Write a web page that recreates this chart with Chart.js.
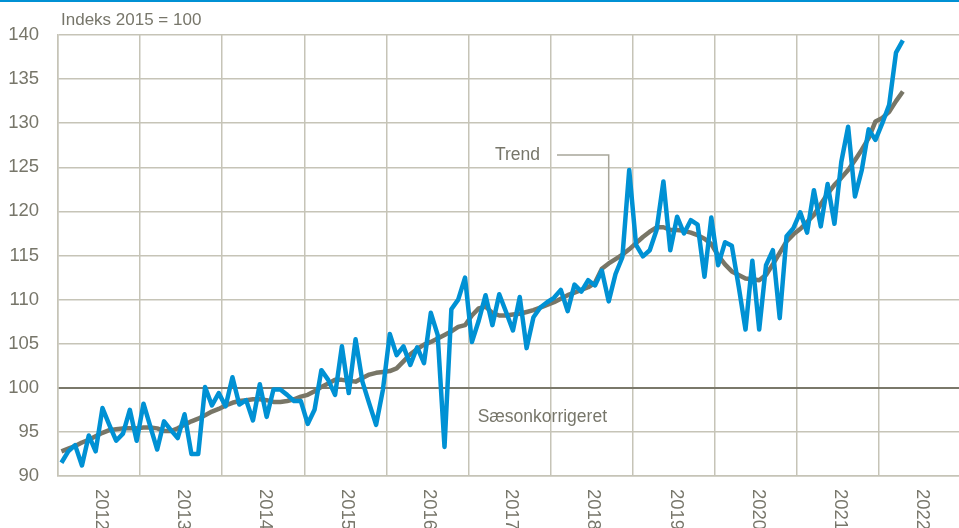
<!DOCTYPE html>
<html>
<head>
<meta charset="utf-8">
<script src="https://cdn.jsdelivr.net/npm/chart.js@4"></script>
<style>
  html, body { margin: 0; padding: 0; background: #fff; overflow: hidden; }
  #wrap { width: 959px; height: 528px; overflow: hidden; }
</style>
</head>
<body>
<div id="wrap"><canvas id="chart" width="962" height="528"></canvas></div>
<script>
// Monthly index, Jan 2012 - Apr 2022 (2015 = 100)
const years = ['2012', '2013', '2014', '2015', '2016', '2017', '2018', '2019', '2020', '2021', '2022'];

const seasonAdjusted = [
  91.5, 92.8, 93.5, 91.2, 94.6, 92.8, 97.7, 95.8, 94.0, 94.8, 97.5, 94.0,
  98.2, 95.6, 93.0, 96.2, 95.2, 94.3, 97.0, 92.5, 92.5, 100.1, 98.0, 99.4,
  97.9, 101.2, 98.1, 98.6, 96.3, 100.4, 96.7, 99.8, 99.8, 99.2, 98.5, 98.5,
  95.9, 97.5, 102.0, 100.9, 99.2, 104.7, 99.4, 105.5, 100.7, 98.2, 95.8, 99.8,
  106.1, 103.7, 104.7, 102.6, 104.6, 102.8, 108.5, 106.0, 93.3, 108.9, 110.0, 112.5,
  105.2, 107.6, 110.5, 107.1, 110.6, 108.6, 106.5, 110.3, 104.5, 108.0, 109.1, 109.7,
  110.2, 111.1, 108.7, 111.7, 110.9, 112.2, 111.6, 113.3, 109.8, 112.9, 114.8, 124.7,
  116.2, 114.9, 115.6, 117.9, 123.4, 115.6, 119.4, 117.5, 119.0, 118.5, 112.6, 119.3,
  113.9, 116.5, 116.1, 111.5, 106.6, 114.4, 106.6, 113.9, 115.6, 107.9, 117.2, 118.1,
  119.9, 117.6, 122.4, 118.3, 123.1, 118.6, 125.6, 129.6, 121.7, 124.7, 129.3, 128.1,
  130.0, 132.1, 138.0, 139.4
];

const trend = [
  92.8, 93.1, 93.4, 93.8, 94.1, 94.5, 94.9, 95.2, 95.3, 95.4, 95.4, 95.4,
  95.5, 95.5, 95.4, 95.1, 95.1, 95.4, 95.8, 96.2, 96.5, 96.9, 97.3, 97.6,
  98.0, 98.3, 98.5, 98.6, 98.7, 98.7, 98.6, 98.4, 98.4, 98.5, 98.7, 99.0,
  99.2, 99.6, 100.1, 100.5, 100.9, 100.9, 100.8, 100.7, 101.1, 101.5, 101.7, 101.8,
  101.9, 102.2, 103.0, 103.8, 104.4, 104.9, 105.2, 105.6, 106.0, 106.4, 106.9, 107.1,
  108.2, 109.0, 109.2, 108.5, 108.2, 108.2, 108.3, 108.4, 108.6, 108.8, 109.1, 109.4,
  109.7, 110.1, 110.5, 110.8, 111.1, 111.4, 111.9, 113.5, 114.1, 114.6, 115.1, 115.7,
  116.4, 117.1, 117.7, 118.2, 118.2, 117.9, 117.9, 117.8, 117.6, 117.3, 116.9, 116.3,
  115.0, 114.0, 113.2, 112.8, 112.4, 112.3, 112.2, 112.8, 114.0, 115.3, 116.6, 117.4,
  118.0, 118.8, 119.6, 120.8, 122.0, 123.0, 123.8, 124.7, 125.8, 127.0, 128.3, 130.2,
  130.6, 131.3, 132.5, 133.6
];

const FONT = '"Liberation Sans", Arial, sans-serif';
const TEXT = '#77766a';
const GRID = '#c6c4b7';
const BLUE = '#0091d4';
const GREY = '#787667';

// month index -> point in the middle of the month
const toPoints = arr => arr.map((v, i) => ({ x: i + 0.5, y: v }));

const annotations = {
  id: 'annotations',
  afterDraw(chart) {
    const ctx = chart.ctx;
    const xs = chart.scales.x;
    const ys = chart.scales.y;
    ctx.save();
    // top rule
    ctx.fillStyle = BLUE;
    ctx.fillRect(0, 0, chart.width, 2);

    ctx.fillStyle = TEXT;
    ctx.font = '17px ' + FONT;
    ctx.textBaseline = 'middle';
    ctx.textAlign = 'left';
    ctx.fillText('Indeks 2015 = 100', 61, 20);

    // year labels, rotated clockwise
    ctx.font = '18.5px ' + FONT;
    years.forEach((yr, k) => {
      const x = xs.getPixelForValue(k * 12 + 6) + 2;
      ctx.save();
      ctx.translate(x, 489);
      ctx.rotate(Math.PI / 2);
      ctx.textAlign = 'left';
      ctx.textBaseline = 'middle';
      ctx.fillText(yr, 0, 0);
      ctx.restore();
    });

    // series labels
    ctx.font = '17.5px ' + FONT;
    ctx.textAlign = 'right';
    ctx.fillText('Trend', 540, ys.getPixelForValue(126.4));
    ctx.fillText('Sæsonkorrigeret', 607, ys.getPixelForValue(96.7));

    // leader line for Trend
    ctx.strokeStyle = '#a8a69a';
    ctx.lineWidth = 1.5;
    ctx.beginPath();
    ctx.moveTo(557, ys.getPixelForValue(126.4));
    ctx.lineTo(xs.getPixelForValue(80.5), ys.getPixelForValue(126.4));
    ctx.lineTo(xs.getPixelForValue(80.5), ys.getPixelForValue(114.5));
    ctx.stroke();
    ctx.restore();
  }
};

new Chart(document.getElementById('chart'), {
  type: 'line',
  data: {
    datasets: [
      {
        label: 'Sæsonkorrigeret',
        data: toPoints(seasonAdjusted),
        borderColor: BLUE,
        borderWidth: 4.5,
        borderJoinStyle: 'round',
        pointRadius: 0,
        tension: 0
      },
      {
        label: 'Trend',
        data: toPoints(trend),
        borderColor: GREY,
        borderWidth: 4.5,
        borderJoinStyle: 'round',
        pointRadius: 0,
        tension: 0
      }
    ]
  },
  options: {
    responsive: false,
    animation: false,
    devicePixelRatio: 1,
    layout: { padding: { top: 35, right: 1, left: 0, bottom: 0 } },
    plugins: {
      legend: { display: false },
      tooltip: { enabled: false },
      title: { display: false }
    },
    scales: {
      x: {
        type: 'linear',
        min: 0,
        max: 132,
        afterFit: s => { s.height = 52; },
        ticks: { display: false, stepSize: 12 },
        grid: { color: GRID, lineWidth: 1.5, drawTicks: false },
        border: { color: GRID, width: 1.5 }
      },
      y: {
        min: 90,
        max: 140,
        afterFit: s => { s.width = 58; },
        ticks: {
          stepSize: 5,
          padding: 19,
          color: TEXT,
          font: { family: FONT, size: 18.5 }
        },
        grid: {
          drawTicks: false,
          color: c => c.tick && c.tick.value === 100 ? '#7a786a' : GRID,
          lineWidth: c => c.tick && c.tick.value === 100 ? 2 : 1.5
        },
        border: { color: GRID, width: 1.5 }
      }
    }
  },
  plugins: [annotations]
});
</script>
</body>
</html>
